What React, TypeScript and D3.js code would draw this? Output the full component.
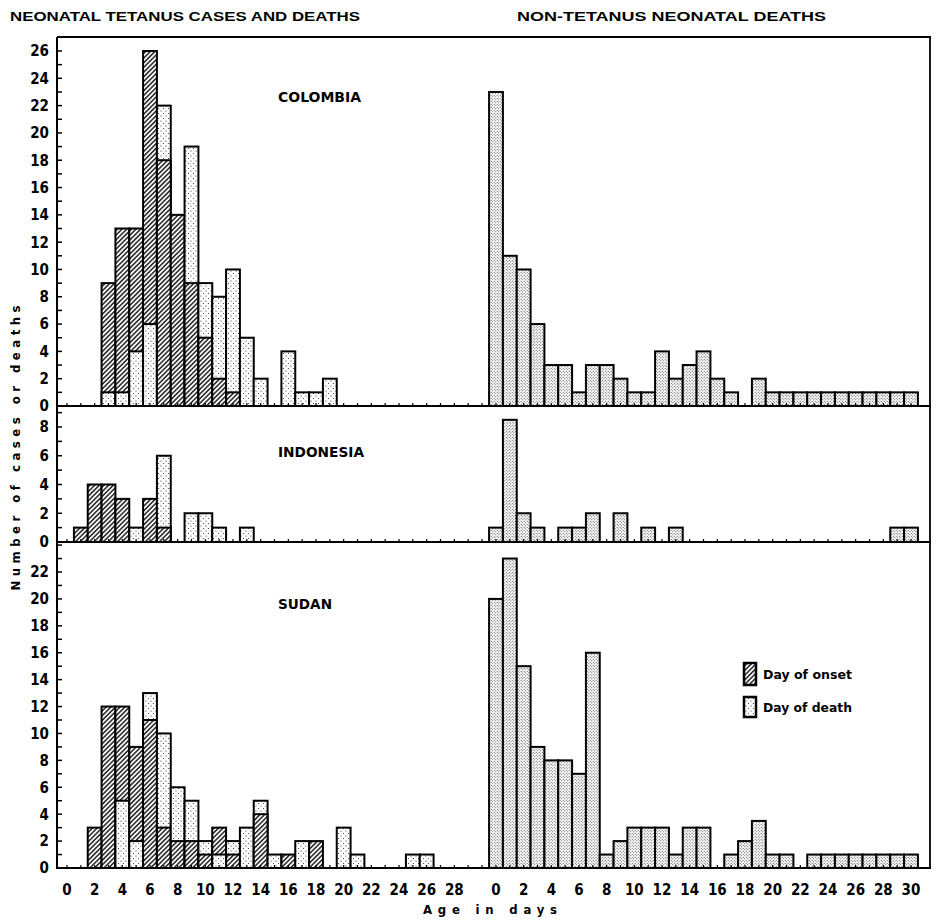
import React, { useEffect, useRef } from "react";
import * as d3 from "d3";

// day index 0..30 for every series
const days = d3.range(0, 31);
const leftTickDays = d3.range(0, 29, 2);
const rightTickDays = d3.range(0, 31, 2);

// neonatal tetanus: day of onset (hatched) and day of death (stippled)
const colombiaOnset = [0, 0, 0, 9, 13, 13, 26, 18, 14, 9, 5, 2, 1, 0, 0, 0, 0, 0, 0, 0, 0, 0, 0, 0, 0, 0, 0, 0, 0, 0, 0];
const colombiaDeath = [0, 0, 0, 1, 1, 4, 6, 22, 0, 19, 9, 8, 10, 5, 2, 0, 4, 1, 1, 2, 0, 0, 0, 0, 0, 0, 0, 0, 0, 0, 0];
const indonesiaOnset = [0, 1, 4, 4, 3, 0, 3, 1, 0, 0, 0, 0, 0, 0, 0, 0, 0, 0, 0, 0, 0, 0, 0, 0, 0, 0, 0, 0, 0, 0, 0];
const indonesiaDeath = [0, 0, 0, 0, 0, 1, 0, 6, 0, 2, 2, 1, 0, 1, 0, 0, 0, 0, 0, 0, 0, 0, 0, 0, 0, 0, 0, 0, 0, 0, 0];
const sudanOnset = [0, 0, 3, 12, 12, 9, 11, 3, 2, 2, 1, 3, 1, 0, 4, 0, 1, 0, 2, 0, 0, 0, 0, 0, 0, 0, 0, 0, 0, 0, 0];
const sudanDeath = [0, 0, 0, 0, 5, 2, 13, 10, 6, 5, 2, 1, 2, 3, 5, 1, 0, 2, 0, 0, 3, 1, 0, 0, 0, 1, 1, 0, 0, 0, 0];

// non-tetanus neonatal deaths
const colombiaOther = [23, 11, 10, 6, 3, 3, 1, 3, 3, 2, 1, 1, 4, 2, 3, 4, 2, 1, 0, 2, 1, 1, 1, 1, 1, 1, 1, 1, 1, 1, 1];
const indonesiaOther = [1, 8.5, 2, 1, 0, 1, 1, 2, 0, 2, 0, 1, 0, 1, 0, 0, 0, 0, 0, 0, 0, 0, 0, 0, 0, 0, 0, 0, 0, 1, 1];
const sudanOther = [20, 23, 15, 9, 8, 8, 7, 16, 1, 2, 3, 3, 3, 1, 3, 3, 0, 1, 2, 3.5, 1, 1, 0, 1, 1, 1, 1, 1, 1, 1, 1];

const countries = ["COLOMBIA", "INDONESIA", "SUDAN"];
const labelMax = [26, 8, 22];
const tickMax = [26, 9, 24];

const FONT = "'Liberation Sans Narrow', 'DejaVu Sans Condensed', 'Liberation Sans', Arial, sans-serif";

const App = () => {
  const svgRef = useRef<SVGSVGElement | null>(null);

  useEffect(() => {
    if (!svgRef.current) return;
    const width = 941;
    const height = 923;
    const svg = d3.select(svgRef.current).attr("width", width).attr("height", height);
    svg.selectAll("*").remove();

    const axisX = 57;
    const rightX = 930;
    const frameTop = 37;

    // patterns
    const defs = svg.append("defs");
    const hatch = defs
      .append("pattern")
      .attr("id", "hatch")
      .attr("patternUnits", "userSpaceOnUse")
      .attr("width", 3.3)
      .attr("height", 3.3)
      .attr("patternTransform", "rotate(45)");
    hatch.append("rect").attr("width", 3.3).attr("height", 3.3).attr("fill", "#fff");
    hatch
      .append("line")
      .attr("x1", 0.8).attr("y1", 0).attr("x2", 0.8).attr("y2", 3.3)
      .attr("stroke", "#111").attr("stroke-width", 1.4);

    const dots = defs
      .append("pattern")
      .attr("id", "dots")
      .attr("patternUnits", "userSpaceOnUse")
      .attr("width", 5).attr("height", 5);
    dots.append("rect").attr("width", 5).attr("height", 5).attr("fill", "#fff");
    dots.append("circle").attr("cx", 1).attr("cy", 1).attr("r", 0.6).attr("fill", "#333");
    dots.append("circle").attr("cx", 3.5).attr("cy", 3.5).attr("r", 0.6).attr("fill", "#333");

    const dense = defs
      .append("pattern")
      .attr("id", "dense")
      .attr("patternUnits", "userSpaceOnUse")
      .attr("width", 3).attr("height", 3);
    dense.append("rect").attr("width", 3).attr("height", 3).attr("fill", "#fff");
    dense.append("circle").attr("cx", 0.75).attr("cy", 0.75).attr("r", 0.6).attr("fill", "#444");
    dense.append("circle").attr("cx", 2.25).attr("cy", 2.25).attr("r", 0.6).attr("fill", "#444");

    // scales
    const xLeft = d3.scaleLinear().domain([0, 30]).range([67, 482]);
    const xRight = d3.scaleLinear().domain([0, 30]).range([496, 911]);
    const bw = xLeft(1) - xLeft(0);

    const yScales = [
      d3.scaleLinear().domain([0, 26]).range([406, 51]),
      d3.scaleLinear().domain([0, 8]).range([542, 427]),
      d3.scaleLinear().domain([0, 22]).range([868, 572]),
    ];
    const onsets = [colombiaOnset, indonesiaOnset, sudanOnset];
    const deaths = [colombiaDeath, indonesiaDeath, sudanDeath];
    const others = [colombiaOther, indonesiaOther, sudanOther];
    const labelY = [102, 457, 609];
    const labelW = [83, 86, 54];

    yScales.forEach((y, p) => {
      const g = svg.append("g");

      // tetanus bars: taller one behind, shorter in front
      days.forEach((d) => {
        const items = [
          { v: onsets[p][d], fill: "url(#hatch)" },
          { v: deaths[p][d], fill: "url(#dots)" },
        ]
          .filter((e) => e.v > 0)
          .sort((a, b) => b.v - a.v);
        items.forEach((e) => {
          g.append("rect")
            .attr("x", xLeft(d) - bw / 2)
            .attr("y", y(e.v))
            .attr("width", bw)
            .attr("height", y(0) - y(e.v))
            .attr("fill", e.fill)
            .attr("stroke", "#000")
            .attr("stroke-width", 2);
        });
      });

      // non-tetanus bars
      g.selectAll("rect.other")
        .data(days.filter((d) => others[p][d] > 0))
        .enter()
        .append("rect")
        .attr("class", "other")
        .attr("x", (d) => xRight(d) - bw / 2)
        .attr("y", (d) => y(others[p][d]))
        .attr("width", bw)
        .attr("height", (d) => y(0) - y(others[p][d]))
        .attr("fill", "url(#dense)")
        .attr("stroke", "#000")
        .attr("stroke-width", 2);

      // baseline ticks each day
      days.forEach((d) => {
        [xLeft(d), xRight(d)].forEach((x) => {
          g.append("line")
            .attr("x1", x).attr("x2", x)
            .attr("y1", y(0)).attr("y2", y(0) - 3)
            .attr("stroke", "#000").attr("stroke-width", 1.2);
        });
      });

      // baseline
      g.append("line")
        .attr("x1", axisX).attr("x2", rightX + 1)
        .attr("y1", y(0)).attr("y2", y(0))
        .attr("stroke", "#000").attr("stroke-width", 2.2);

      // y ticks
      d3.range(0, tickMax[p] + 1).forEach((v) => {
        g.append("line")
          .attr("x1", axisX).attr("x2", axisX + 5)
          .attr("y1", y(v)).attr("y2", y(v))
          .attr("stroke", "#000").attr("stroke-width", 1.5);
      });
      d3.range(0, labelMax[p] + 1, 2).forEach((v) => {
        g.append("text")
          .attr("x", 49)
          .attr("y", y(v))
          .attr("dy", "0.36em")
          .attr("text-anchor", "end")
          .style("font-family", FONT)
          .style("font-weight", "bold")
          .style("font-size", "15px")
          .text(v);
      });

      // country label
      g.append("text")
        .attr("x", 278)
        .attr("y", labelY[p])
        .attr("textLength", labelW[p])
        .attr("lengthAdjust", "spacingAndGlyphs")
        .style("font-family", FONT)
        .style("font-weight", "bold")
        .style("font-size", "14px")
        .text(countries[p]);
    });

    // frame
    svg.append("line")
      .attr("x1", axisX).attr("x2", rightX + 1)
      .attr("y1", frameTop).attr("y2", frameTop)
      .attr("stroke", "#000").attr("stroke-width", 2);
    svg.append("line")
      .attr("x1", axisX).attr("x2", axisX)
      .attr("y1", frameTop).attr("y2", 869)
      .attr("stroke", "#000").attr("stroke-width", 2);
    svg.append("line")
      .attr("x1", rightX).attr("x2", rightX)
      .attr("y1", frameTop).attr("y2", 869)
      .attr("stroke", "#000").attr("stroke-width", 1.8);

    // x tick labels
    const xLabel = (x: number, t: number) =>
      svg.append("text")
        .attr("x", x)
        .attr("y", 895)
        .attr("text-anchor", "middle")
        .style("font-family", FONT)
        .style("font-weight", "bold")
        .style("font-size", "15px")
        .text(t);
    leftTickDays.forEach((d) => xLabel(xLeft(d), d));
    rightTickDays.forEach((d) => xLabel(xRight(d), d));

    // titles
    svg.append("text")
      .attr("x", 10).attr("y", 21)
      .attr("textLength", 350).attr("lengthAdjust", "spacingAndGlyphs")
      .style("font-family", "'Liberation Sans', Arial, sans-serif")
      .style("font-weight", "bold").style("font-size", "13px")
      .text("NEONATAL TETANUS CASES AND DEATHS");
    svg.append("text")
      .attr("x", 517).attr("y", 21)
      .attr("textLength", 309).attr("lengthAdjust", "spacingAndGlyphs")
      .style("font-family", "'Liberation Sans', Arial, sans-serif")
      .style("font-weight", "bold").style("font-size", "13px")
      .text("NON-TETANUS NEONATAL DEATHS");

    // axis titles
    svg.append("text")
      .attr("transform", "translate(20,448) rotate(-90)")
      .attr("text-anchor", "middle")
      .attr("textLength", 285).attr("lengthAdjust", "spacing")
      .style("font-family", FONT)
      .style("font-weight", "bold").style("font-size", "13px")
      .text("Number of cases or deaths");
    svg.append("text")
      .attr("x", 490).attr("y", 914)
      .attr("text-anchor", "middle")
      .attr("textLength", 134).attr("lengthAdjust", "spacing")
      .style("font-family", FONT)
      .style("font-weight", "bold").style("font-size", "13px")
      .text("Age in days");

    // legend
    const legend = [
      { label: "Day of onset", fill: "url(#hatch)", y: 663, h: 22 },
      { label: "Day of death", fill: "url(#dots)", y: 697, h: 20 },
    ];
    legend.forEach((l) => {
      svg.append("rect")
        .attr("x", 744).attr("y", l.y)
        .attr("width", 12).attr("height", l.h)
        .attr("fill", l.fill)
        .attr("stroke", "#000").attr("stroke-width", 2.5);
      svg.append("text")
        .attr("x", 763).attr("y", l.y + l.h / 2 + 5)
        .attr("textLength", 89).attr("lengthAdjust", "spacingAndGlyphs")
        .style("font-family", FONT)
        .style("font-weight", "bold").style("font-size", "13px")
        .text(l.label);
    });
  }, []);

  return (
    <div style={{ position: "absolute", left: 0, top: 0 }}>
      <svg ref={svgRef}></svg>
    </div>
  );
};

export default App;
